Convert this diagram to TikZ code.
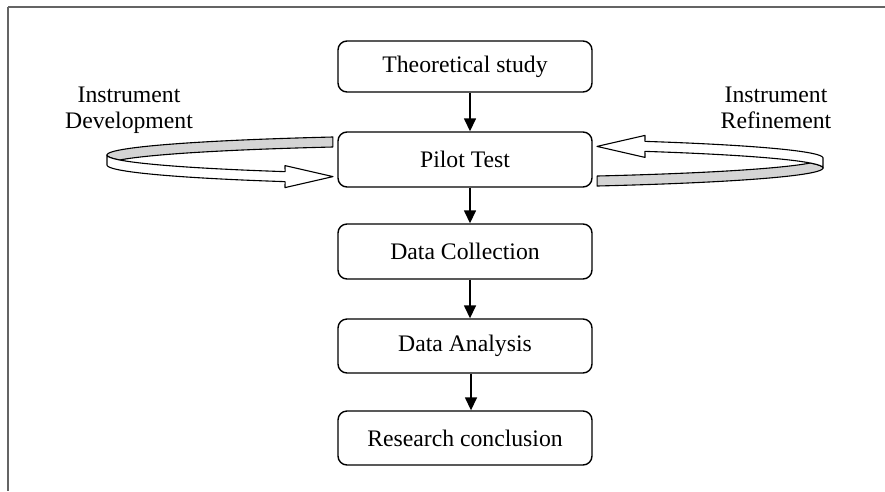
\documentclass[tikz,border=0pt]{standalone}
\usepackage{fontspec}
\setmainfont{Liberation Serif}
\usetikzlibrary{arrows.meta}
\definecolor{ribbongray}{RGB}{212,212,212}
\definecolor{framegray}{RGB}{100,100,100}
\newcommand{\mkribbon}{%
  \filldraw[band, fill=ribbongray]
    plot[domain=180:244.2, samples=30, variable=\t] ({507+400*cos(\t)},{155+20*sin(\t)})
    -- plot[domain=244.2:194.48, samples=30, variable=\t] ({507+400*cos(\t)},{165+20*sin(\t)})
    -- plot[domain=165.52:180, samples=10, variable=\t] ({507+400*cos(\t)},{155+20*sin(\t)})
    -- cycle;
  \filldraw[band, fill=white]
    (107,155) -- (107,165)
    -- plot[domain=180:123.7, samples=30, variable=\t] ({507+400*cos(\t)},{165+20*sin(\t)})
    -- (285,187.6) -- (333,176.6) -- (285,165.6)
    -- plot[domain=123.7:180, samples=30, variable=\t] ({507+400*cos(\t)},{155+20*sin(\t)})
    -- cycle;}
\begin{document}
\begin{tikzpicture}[x=1pt,y=-1pt,
  stepbox/.style={draw, line width=1.4pt, rounded corners=9pt, minimum width=254pt,
    inner sep=0pt, font=\fontsize{23.7}{26}\selectfont},
  flow/.style={line width=1.5pt, -{Triangle[length=13pt,width=12pt]}},
  lbl/.style={align=center, inner sep=0pt, anchor=north, font=\fontsize{23.7}{26}\selectfont},
  band/.style={draw=black, line width=1.1pt, line join=round}]
\useasboundingbox (0,0) rectangle (885,491);
\draw[line width=1.5pt, framegray] (885,7) -- (8,7);
\draw[line width=2.2pt, framegray] (8,7) -- (8,491);

\node[stepbox, minimum height=51pt] (theo) at (465,66.5) {Theoretical study};
\node[stepbox, minimum height=55pt] (pilot) at (465,159.5) {Pilot Test};
\node[stepbox, minimum height=55pt] (coll) at (465,251.5) {Data Collection};
\node[stepbox, minimum height=54pt] (anal) at (465,346) {Data Analysis};
\node[stepbox, minimum height=54pt] (concl) at (465,438) {Research conclusion};

\draw[flow] ([xshift=5pt]theo.south) -- ([xshift=5pt]pilot.north);
\draw[flow] ([xshift=5pt]pilot.south) -- ([xshift=5pt]coll.north);
\draw[flow] ([xshift=5pt]coll.south) -- ([xshift=5pt]anal.north);
\draw[flow] ([xshift=6pt]anal.south) -- ([xshift=6pt]concl.north);

\mkribbon
\begin{scope}[rotate around={180:(465,161.5)}]
  \mkribbon
\end{scope}

\node[lbl] (ldev) at (129,86.5) {Instrument\\Development};
\node[lbl] (lref) at (776,87) {Instrument\\Refinement};
\end{tikzpicture}
\end{document}
